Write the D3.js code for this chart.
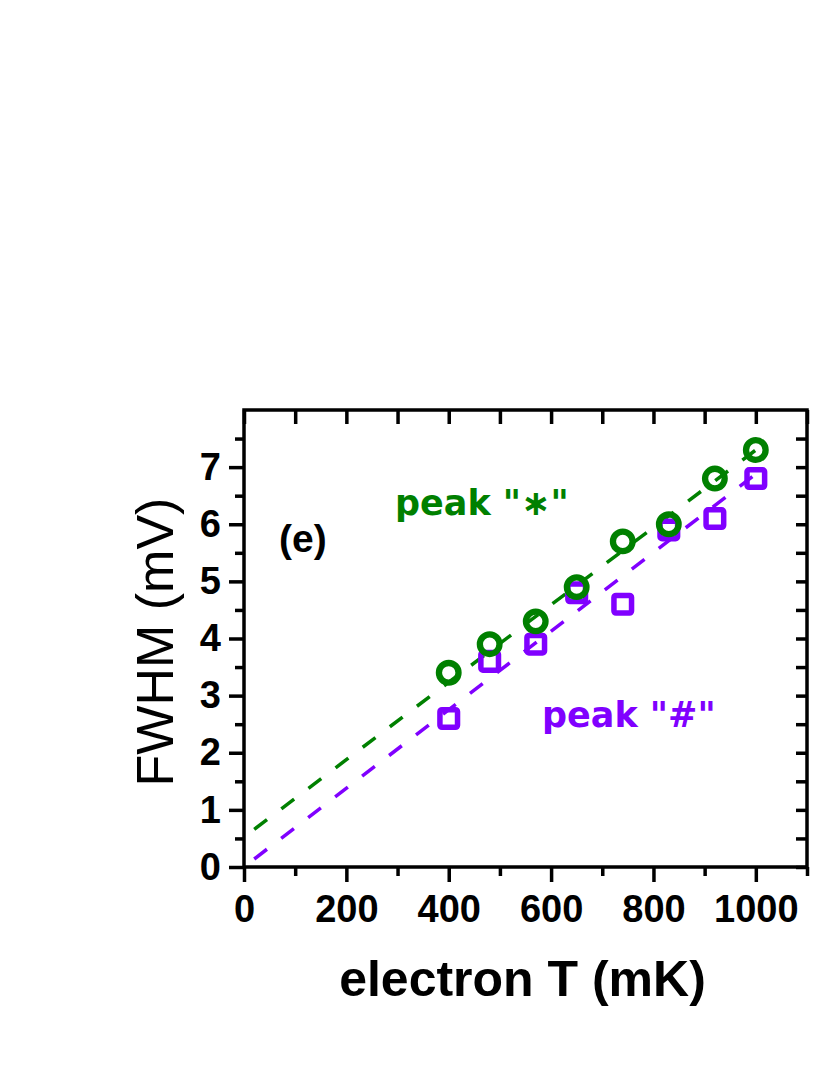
<!DOCTYPE html>
<html>
<head>
<meta charset="utf-8">
<script src="https://cdn.jsdelivr.net/npm/d3@7"></script>
<style>
  body { margin: 0; background: #fff; }
  svg { display: block; }
</style>
</head>
<body>
<script>
// electron temperature (mK)
var temps = [400, 480, 570, 650, 740, 830, 920, 1000];
// FWHM (mV) for the two peaks
var peakStar = [3.4, 3.9, 4.3, 4.9, 5.7, 6.0, 6.8, 7.3];
var peakHash = [2.6, 3.6, 3.9, 4.8, 4.6, 5.9, 6.1, 6.8];
// dashed fit lines, end points
var fitX = [20, 1000];
var fitStar = [0.66, 7.30];
var fitHash = [0.14, 6.88];

var xTicks = [0, 200, 400, 600, 800, 1000];
var xMinor = [100, 300, 500, 700, 900, 1100];
var yTicks = [0, 1, 2, 3, 4, 5, 6, 7];
var yMinor = [0.5, 1.5, 2.5, 3.5, 4.5, 5.5, 6.5, 7.5];

var green = "#008000";
var purple = "#8000ff";

var width = 830;
var height = 1075;
var plotL = 244, plotR = 807, plotT = 410, plotB = 867;

var svg = d3.select("body").append("svg")
    .attr("width", width)
    .attr("height", height);

var x = d3.scaleLinear().domain([0, 1100]).range([plotL, plotR]);
var y = d3.scaleLinear().domain([0, 8]).range([plotB, plotT]);

// fit lines
var drawFit = function(ys, color)
{
  var pts = fitX.map(function(d, i) { return [d, ys[i]]; });
  svg.append("path")
    .datum(pts)
    .attr("d", d3.line().x(function(d){ return x(d[0]); }).y(function(d){ return y(d[1]); }))
    .attr("fill", "none")
    .attr("stroke", color)
    .attr("stroke-width", 3.5)
    .attr("stroke-dasharray", "16,18");
}
drawFit(fitStar, green);
drawFit(fitHash, purple);

// markers
svg.append("g").selectAll("rect")
    .data(temps)
    .enter()
    .append("rect")
    .attr("x", function(d){ return x(d) - 8.8; })
    .attr("y", function(d, i){ return y(peakHash[i]) - 8.8; })
    .attr("width", 17.6)
    .attr("height", 17.6)
    .attr("rx", 2)
    .attr("fill", "none")
    .attr("stroke", purple)
    .attr("stroke-width", 5.5);

svg.append("g").selectAll("circle")
    .data(temps)
    .enter()
    .append("circle")
    .attr("cx", function(d){ return x(d); })
    .attr("cy", function(d, i){ return y(peakStar[i]); })
    .attr("r", 9.8)
    .attr("fill", "none")
    .attr("stroke", green)
    .attr("stroke-width", 6.3);

// axes: bottom/left ticks out, top/right ticks in
var styleAxis = function(g)
{
  g.select(".domain").remove();
  g.selectAll("line").attr("stroke", "#000").attr("stroke-width", 3.5);
  g.selectAll("text")
    .attr("fill", "#000")
    .attr("font-family", "'Liberation Sans', Arial, sans-serif")
    .attr("font-weight", "bold")
    .attr("font-size", 38);
}

svg.append("g")
    .attr("transform", "translate(0," + plotB + ")")
    .call(d3.axisBottom(x).tickValues(xTicks).tickSize(15).tickPadding(13).tickFormat(d3.format("d")))
    .call(styleAxis);
svg.append("g")
    .attr("transform", "translate(0," + plotB + ")")
    .call(d3.axisBottom(x).tickValues(xMinor).tickSize(9).tickFormat(""))
    .call(styleAxis);
svg.append("g")
    .attr("transform", "translate(" + plotL + ",0)")
    .call(d3.axisLeft(y).tickValues(yTicks).tickSize(15).tickPadding(8).tickFormat(d3.format("d")))
    .call(styleAxis);
svg.append("g")
    .attr("transform", "translate(" + plotL + ",0)")
    .call(d3.axisLeft(y).tickValues(yMinor).tickSize(9).tickFormat(""))
    .call(styleAxis);
svg.append("g")
    .attr("transform", "translate(0," + plotT + ")")
    .call(d3.axisBottom(x).tickValues(xTicks.concat(xMinor)).tickSize(14).tickFormat(""))
    .call(styleAxis);
svg.append("g")
    .attr("transform", "translate(" + plotR + ",0)")
    .call(d3.axisLeft(y).tickValues(yTicks.concat(yMinor)).tickSize(11).tickFormat(""))
    .call(styleAxis);

// frame
svg.append("rect")
    .attr("x", plotL)
    .attr("y", plotT)
    .attr("width", plotR - plotL)
    .attr("height", plotB - plotT)
    .attr("fill", "none")
    .attr("stroke", "#000")
    .attr("stroke-width", 3.5);

// axis titles
svg.append("text")
    .attr("x", (plotL + plotR) / 2 - 3)
    .attr("y", 996)
    .attr("text-anchor", "middle")
    .attr("font-family", "'Liberation Sans', Arial, sans-serif")
    .attr("font-weight", "bold")
    .attr("font-size", 50)
    .text("electron T (mK)");

svg.append("text")
    .attr("transform", "translate(173," + 642 + ") rotate(-90)")
    .attr("text-anchor", "middle")
    .attr("font-family", "'Liberation Sans', Arial, sans-serif")
    .attr("font-size", 52)
    .text("FWHM (mV)");

// annotations
svg.append("text")
    .attr("x", 279)
    .attr("y", 552)
    .attr("font-family", "'Liberation Sans', Arial, sans-serif")
    .attr("font-weight", "bold")
    .attr("font-size", 39)
    .text("(e)");

svg.append("text")
    .attr("x", 395)
    .attr("y", 515)
    .attr("fill", green)
    .attr("font-family", "'DejaVu Sans', Verdana, sans-serif")
    .attr("font-weight", "bold")
    .attr("font-size", 35)
    .text("peak \"\u2217\"");

svg.append("text")
    .attr("x", 542)
    .attr("y", 727)
    .attr("fill", purple)
    .attr("font-family", "'DejaVu Sans', Verdana, sans-serif")
    .attr("font-weight", "bold")
    .attr("font-size", 35)
    .text("peak \"#\"");
</script>
</body>
</html>
